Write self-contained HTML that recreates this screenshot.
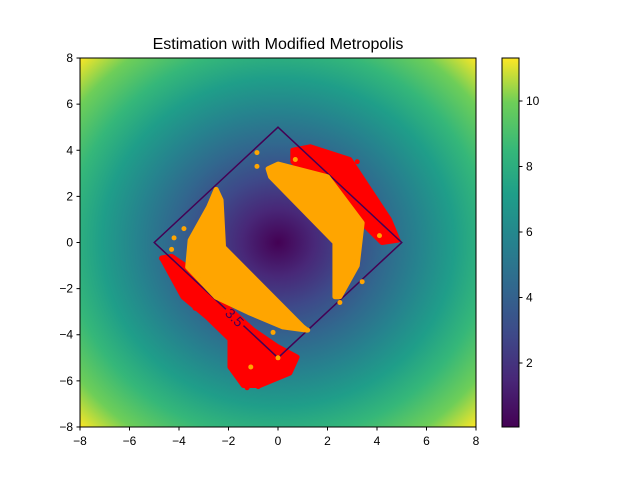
<!DOCTYPE html>
<html><head><meta charset="utf-8"><style>
body{margin:0;background:#fff;width:640px;height:480px;overflow:hidden;font-family:"Liberation Sans",sans-serif;}
</style></head><body>
<svg width="640" height="480" xmlns="http://www.w3.org/2000/svg">
<defs>
<linearGradient id="vir" x1="0" y1="1" x2="0" y2="0">
<stop offset="0" stop-color="#440154"/><stop offset="0.13" stop-color="#482878"/><stop offset="0.25" stop-color="#3e4989"/><stop offset="0.38" stop-color="#31688e"/><stop offset="0.5" stop-color="#26828e"/><stop offset="0.63" stop-color="#1f9e89"/><stop offset="0.75" stop-color="#35b779"/><stop offset="0.88" stop-color="#6ece58"/><stop offset="1" stop-color="#fde725"/>
</linearGradient>
<radialGradient id="rad" gradientUnits="userSpaceOnUse" cx="278" cy="242.5" r="280" gradientTransform="translate(278 242.5) scale(1 0.932) translate(-278 -242.5)">
<stop offset="0" stop-color="#440154"/><stop offset="0.13" stop-color="#482878"/><stop offset="0.25" stop-color="#3e4989"/><stop offset="0.38" stop-color="#31688e"/><stop offset="0.5" stop-color="#26828e"/><stop offset="0.63" stop-color="#1f9e89"/><stop offset="0.75" stop-color="#35b779"/><stop offset="0.88" stop-color="#6ece58"/><stop offset="1" stop-color="#fde725"/>
</radialGradient>
<clipPath id="clip"><rect x="80" y="58" width="396" height="369"/></clipPath>
</defs>
<text x="278" y="49" text-anchor="middle" font-size="16">Estimation with Modified Metropolis</text>
<rect x="80" y="58" width="396" height="369" fill="url(#rad)"/>
<g id="plot" clip-path="url(#clip)"></g>
<rect x="80" y="58" width="396" height="369" fill="none" stroke="#000" stroke-width="1"/>
<g id="axes"></g>
<rect x="502" y="58" width="17" height="369" fill="url(#vir)" stroke="#000" stroke-width="1"/>
<g id="cbar"></g>
</svg>
<script>
const xTicks=[-8,-6,-4,-2,0,2,4,6,8];
const yTicks=[-8,-6,-4,-2,0,2,4,6,8];
const cbTicks=[2,4,6,8,10];
const contourLevel=[5];
const contourLabel=["3.5"];
const redA=[[0.6,4.0],[1.3,4.15],[2.9,3.6],[4.5,1.0],[4.85,0.1],[4.2,0.0],[2.5,1.8],[0.6,3.5]];
const redB=[[-4.3,-0.6],[-4.7,-0.67],[-3.84,-2.36],[-2.87,-3.23],[-1.94,-4.2],[-1.94,-5.4],[-1.4,-6.2],[-0.73,-6.2],[0.48,-5.66],[0.77,-4.97],[-0.04,-4.5],[-1.0,-3.8],[-2.5,-2.37],[-3.65,-1.07]];
const orangeA=[[-0.4,3.2],[0,3.4],[2.0,2.85],[3.4,0.85],[3.2,-1.0],[2.5,-2.35],[2.3,-2.35],[2.3,0.0],[-0.3,2.85]];
const orangeB=[[-2.5,2.3],[-2.3,1.84],[-2.2,-0.2],[1.0,-3.66],[1.17,-3.8],[0.2,-3.66],[-1.13,-3.06],[-2.5,-2.37],[-3.65,-1.07],[-3.55,0.1],[-2.8,1.54]];
const orangeDots=[[-0.85,3.9],[-0.85,3.3],[-2.5,2.3],[-3.8,0.6],[-4.2,0.2],[-4.3,-0.3],[1.2,-3.8],[-0.2,-3.9],[0,-5.0],[-1.1,-5.4],[2.5,-2.6],[3.4,-1.7],[4.1,0.3],[2.6,1.85],[0.7,3.6]];
const redDots=[[3.2,3.5],[2.9,2.6],[-3.8,-2.3],[-3.35,-2.85],[-4.7,-0.7],[-1.25,-6.3],[-0.8,-6.25],[0.6,-5.2]];
const NS="http://www.w3.org/2000/svg";
const X=v=>278+v*24.75, Y=v=>242.5-v*23.06, CB=v=>428.5-v*32.75;
function mk(t,a,p){const e=document.createElementNS(NS,t);for(const k in a)e.setAttribute(k,a[k]);p.appendChild(e);return e;}
const plot=document.getElementById('plot'),axes=document.getElementById('axes'),cb=document.getElementById('cbar');
function poly(pts,col,name){const e=mk('polygon',{points:pts.map(p=>X(p[0])+','+Y(p[1])).join(' '),fill:col,stroke:col,'stroke-width':5,'stroke-linejoin':'round'},plot);

}
poly(redA,'#ff0000','red-samples-upper');
poly(redB,'#ff0000','red-samples-lower');
redDots.forEach(p=>{const e=mk('circle',{cx:X(p[0]),cy:Y(p[1]),r:2.5,fill:'#ff0000'},plot);

});
const c=contourLevel[0];
const dia=mk('polygon',{points:[[c,0],[0,c],[-c,0],[0,-c]].map(p=>X(p[0])+','+Y(p[1])).join(' '),fill:'none',stroke:'#440154','stroke-width':1.5},plot);


poly(orangeA,'#ffa500','orange-samples-upper');
poly(orangeB,'#ffa500','orange-samples-lower');
orangeDots.forEach(p=>{const e=mk('circle',{cx:X(p[0]),cy:Y(p[1]),r:2.5,fill:'#ffa500'},plot);

});
const lx=X(-1.75),ly=Y(-3.25);
const gap=mk('rect',{x:lx-12,y:ly-4,width:24,height:8,fill:'#ff0000',transform:`rotate(45 ${lx} ${ly})`},plot);


const lab=mk('text',{x:lx,y:ly+5,'text-anchor':'middle','font-size':14,fill:'#440154',transform:`rotate(45 ${lx} ${ly})`},plot);
lab.textContent=contourLabel[0];


xTicks.forEach(v=>{mk('line',{x1:X(v),x2:X(v),y1:427,y2:430.5,stroke:'#000'},axes);
const t=mk('text',{x:X(v),y:445,'text-anchor':'middle','font-size':12},axes);t.textContent=(v<0?'\u2212'+(-v):v);

});
yTicks.forEach(v=>{mk('line',{x1:76.5,x2:80,y1:Y(v),y2:Y(v),stroke:'#000'},axes);
const t=mk('text',{x:73,y:Y(v)+4,'text-anchor':'end','font-size':12},axes);t.textContent=(v<0?'\u2212'+(-v):v);

});
cbTicks.forEach(v=>{mk('line',{x1:519,x2:522.5,y1:CB(v),y2:CB(v),stroke:'#000'},cb);
const t=mk('text',{x:526,y:CB(v)+4,'font-size':12},cb);t.textContent=v;

});
</script>
</body></html>
